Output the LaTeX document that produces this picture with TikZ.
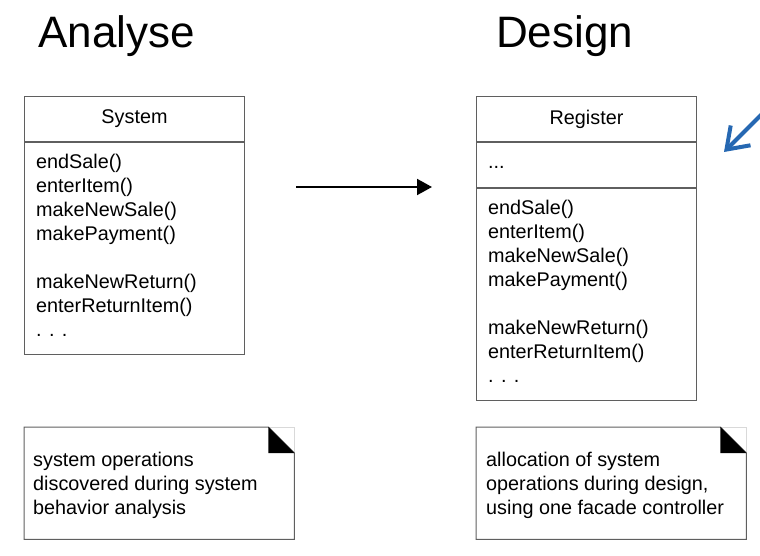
\documentclass[tikz,border=0pt]{standalone}
\usepackage{fontspec}
\setmainfont{Liberation Sans}
\usetikzlibrary{positioning}
\usetikzlibrary{arrows.meta}
\definecolor{boxgray}{RGB}{95,95,95}
\definecolor{arrowblue}{RGB}{38,104,178}
\tikzset{
    umlbox/.style = {rectangle, draw=boxgray, line width=1pt, inner sep=0pt, minimum width=220, anchor=north west},
    optext/.style = {align=left, inner sep=0pt, font=\fontsize{19.8}{24}\selectfont},
    titletext/.style = {inner sep=0pt, anchor=base west, font=\fontsize{44}{48}\selectfont},
}
\begin{document}
\begin{tikzpicture}[
	x=1pt,
	y=-1pt,
	font=\fontsize{19.8}{24}\selectfont
]
\tikzset{
    notebox/.style = {rectangle, inner sep=0pt, minimum width=270, minimum height=112, anchor=north west},
    noteline/.style = {draw=boxgray, line width=1pt},
    flowarrow/.style = {-{Triangle[length=15pt,width=16pt]}, line width=2pt, black},
    bluearrow/.style = {-{Straight Barb[length=20pt,width=28pt]}, line width=4pt, arrowblue, line cap=round},
}
\useasboundingbox (0,0) rectangle (760,556);
\node[titletext] at (38,48) (tAna) {Analyse};
\node[titletext] at (496,48) (tDes) {Design};
%
\node[umlbox, minimum height=45] at (24,96) (sysName) {};
\node[umlbox, minimum height=212, below=0pt of sysName] (sysOps) {};
\node at (sysName.center) (sysLbl) {System};
\node[optext, anchor=north west] at (36,154) (sysTxt) {endSale()\\enterItem()\\makeNewSale()\\makePayment()\\[24pt]makeNewReturn()\\enterReturnItem()\\. . .};
%
\node[umlbox, minimum height=45] at (476,96) (regName) {};
\node[umlbox, minimum height=45, below=0pt of regName] (regAttr) {};
\node[umlbox, minimum height=212, below=0pt of regAttr] (regOps) {};
\node at (regName.center) (regLbl) {Register};
\node[optext, anchor=west] at (488,167) (regDots) {...};
\node[optext, anchor=north west] at (488,200) (regTxt) {endSale()\\enterItem()\\makeNewSale()\\makePayment()\\[24pt]makeNewReturn()\\enterReturnItem()\\. . .};
%
\coordinate (arrA) at (296,187);
\coordinate (arrB) at (432,187);
\draw[flowarrow] (arrA) -- (arrB);
%
\coordinate (blueA) at (778,98);
\coordinate (blueB) at (724,152);
\draw[bluearrow] (blueA) -- (blueB);
%
\node[notebox] at (24,427) (noteA) {};
\draw[draw=black!15, line width=1pt] ([xshift=-26]noteA.north east) -- (noteA.north east) -- ([yshift=-26]noteA.north east);
\draw[noteline] (noteA.north west) -- ([xshift=-26]noteA.north east) -- ([yshift=-26]noteA.north east) -- (noteA.south east) -- (noteA.south west) -- cycle;
\fill[black] ([xshift=-26]noteA.north east) -- ([xshift=-26,yshift=-26]noteA.north east) -- ([yshift=-26]noteA.north east) -- cycle;
\node[optext, anchor=west] at (33,485) (noteAtxt) {system operations\\discovered during system\\behavior analysis};
%
\node[notebox] at (476,427) (noteB) {};
\draw[draw=black!15, line width=1pt] ([xshift=-26]noteB.north east) -- (noteB.north east) -- ([yshift=-26]noteB.north east);
\draw[noteline] (noteB.north west) -- ([xshift=-26]noteB.north east) -- ([yshift=-26]noteB.north east) -- (noteB.south east) -- (noteB.south west) -- cycle;
\fill[black] ([xshift=-26]noteB.north east) -- ([xshift=-26,yshift=-26]noteB.north east) -- ([yshift=-26]noteB.north east) -- cycle;
\node[optext, anchor=west] at (486,485) (noteBtxt) {allocation of system\\operations during design,\\using one facade controller};
\end{tikzpicture}
\end{document}
